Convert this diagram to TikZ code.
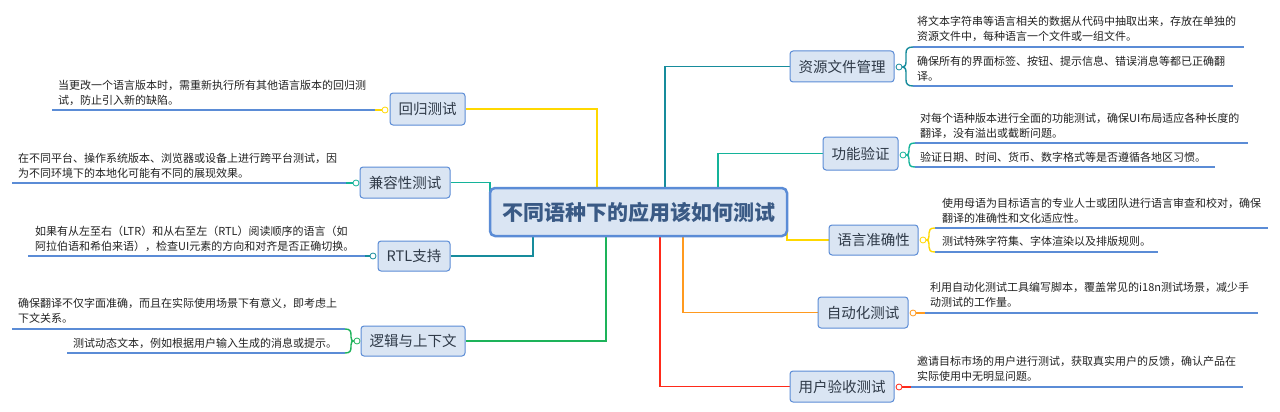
\documentclass[tikz,border=0pt]{standalone}
\usepackage{fontspec}
\setmainfont{Noto Sans CJK SC}
\usetikzlibrary{backgrounds}
\definecolor{boxfill}{HTML}{DAE5F3}
\definecolor{boxline}{HTML}{5B8CD6}
\definecolor{subtext}{HTML}{2F3A48}
\definecolor{maintext}{HTML}{3A5A85}
\definecolor{notetext}{HTML}{222222}
\definecolor{cy}{HTML}{FFD800}
\definecolor{ct}{HTML}{14B39A}
\definecolor{cdt}{HTML}{178C9C}
\definecolor{cg}{HTML}{1DB35A}
\definecolor{co}{HTML}{FF9A1F}
\definecolor{cr}{HTML}{FF2A1A}
\begin{document}
\begin{tikzpicture}[x=1pt,y=-1pt,
  mainbox/.style={draw=boxline, fill=boxfill, line width=2.5pt, rounded corners=5pt,
    minimum width=297pt, minimum height=48pt, inner sep=0pt,
    font=\fontsize{21}{24}\selectfont\bfseries, text=maintext},
  subbox/.style={draw=boxline, fill=boxfill, line width=1pt, rounded corners=3pt,
    inner sep=0pt, font=\fontsize{14.5}{16}\selectfont, text=subtext},
  note/.style={anchor=west, inner sep=0pt, align=left,
    font=\fontsize{11}{15}\selectfont, text=notetext},
  conn/.style={line width=1.6pt},
  uline/.style={draw=boxline, line width=1.4pt},
  dot/.style={circle, fill=white, inner sep=0pt, minimum size=6pt, line width=0.8pt}]
\useasboundingbox (0,0) rectangle (1280,412);

% main and sub topics
\node[mainbox] (central) at (638.5,212) {不同语种下的应用该如何测试};
\node[subbox, minimum width=75pt, minimum height=32pt] (b1) at (427.5,109) {回归测试};
\node[subbox, minimum width=90pt, minimum height=31pt] (b2) at (405,182.5) {兼容性测试};
\node[subbox, minimum width=72pt, minimum height=30pt] (b3) at (414,256) {RTL支持};
\node[subbox, minimum width=104pt, minimum height=30pt] (b4) at (413,341) {逻辑与上下文};
\node[subbox, minimum width=104pt, minimum height=31pt] (r1) at (842,66.5) {资源文件管理};
\node[subbox, minimum width=75pt, minimum height=33pt] (r2) at (860.5,153.5) {功能验证};
\node[subbox, minimum width=89pt, minimum height=30pt] (r3) at (873.5,240) {语言准确性};
\node[subbox, minimum width=90pt, minimum height=31pt] (r4) at (863,312.5) {自动化测试};
\node[subbox, minimum width=104pt, minimum height=31pt] (r5) at (842,386.5) {用户验收测试};

% connection dots
\node[dot, draw=cy] (d1) at (385,110) {};
\node[dot, draw=ct] (d2) at (356,183) {};
\node[dot, draw=cdt] (d3) at (373,256) {};
\node[dot, draw=cg] (d4) at (357,341) {};
\node[dot, draw=cdt] (e1) at (899,67) {};
\node[dot, draw=ct] (e2) at (903,155) {};
\node[dot, draw=cy] (e3) at (923,240) {};
\node[dot, draw=co] (e4) at (913,313) {};
\node[dot, draw=cr] (e5) at (899,387) {};

% notes
\node[note] (n1) at (58,92.5) {当更改一个语言版本时，需重新执行所有其他语言版本的回归测\\试，防止引入新的缺陷。};
\node[note] (n2) at (18,165.5) {在不同平台、操作系统版本、浏览器或设备上进行跨平台测试，因\\为不同环境下的本地化可能有不同的展现效果。};
\node[note] (n3) at (35,239) {如果有从左至右（LTR）和从右至左（RTL）阅读顺序的语言（如\\阿拉伯语和希伯来语），检查UI元素的方向和对齐是否正确切换。};
\node[note] (n4a) at (18,311) {确保翻译不仅字面准确，而且在实际使用场景下有意义，即考虑上\\下文关系。};
\node[note] (n4b) at (73,343) {测试动态文本，例如根据用户输入生成的消息或提示。};
\node[note] (m1a) at (917,28.5) {将文本字符串等语言相关的数据从代码中抽取出来，存放在单独的\\资源文件中，每种语言一个文件或一组文件。};
\node[note] (m1b) at (917,68.5) {确保所有的界面标签、按钮、提示信息、错误消息等都已正确翻\\译。};
\node[note] (m2a) at (920,125.5) {对每个语种版本进行全面的功能测试，确保UI布局适应各种长度的\\翻译，没有溢出或截断问题。};
\node[note] (m2b) at (920,157) {验证日期、时间、货币、数字格式等是否遵循各地区习惯。};
\node[note] (m3a) at (942,210.5) {使用母语为目标语言的专业人士或团队进行语言审查和校对，确保\\翻译的准确性和文化适应性。};
\node[note] (m3b) at (942,241) {测试特殊字符集、字体渲染以及排版规则。};
\node[note] (m4) at (930,295) {利用自动化测试工具编写脚本，覆盖常见的i18n测试场景，减少手\\动测试的工作量。};
\node[note] (m5) at (917,368.5) {邀请目标市场的用户进行测试，获取真实用户的反馈，确认产品在\\实际使用中无明显问题。};

% underline coordinates
\coordinate (u1s) at (52,110);   \coordinate (u1e) at (375,110);
\coordinate (u2s) at (12,183);   \coordinate (u2e) at (346,183);
\coordinate (u3s) at (28,256);   \coordinate (u3e) at (365,256);
\coordinate (u4as) at (12,329);  \coordinate (u4ae) at (345,329);
\coordinate (u4bs) at (67,353);  \coordinate (u4be) at (345,353);
\coordinate (v1as) at (913,47);  \coordinate (v1ae) at (1244,47);
\coordinate (v1bs) at (913,86);  \coordinate (v1be) at (1233,86);
\coordinate (v2as) at (915,143); \coordinate (v2ae) at (1248,143);
\coordinate (v2bs) at (915,167); \coordinate (v2be) at (1215,167);
\coordinate (v3as) at (935,228); \coordinate (v3ae) at (1268,228);
\coordinate (v3bs) at (935,252); \coordinate (v3be) at (1158,252);
\coordinate (v4s) at (925,313);  \coordinate (v4e) at (1258,313);
\coordinate (v5s) at (911,387);  \coordinate (v5e) at (1243,387);

% underlines
\draw[uline] (u1s) -- (u1e);
\draw[uline] (u2s) -- (u2e);
\draw[uline] (u3s) -- (u3e);
\draw[uline] (u4as) -- (u4ae);
\draw[uline] (u4bs) -- (u4be);
\draw[uline] (v1as) -- (v1ae);
\draw[uline] (v1bs) -- (v1be);
\draw[uline] (v2as) -- (v2ae);
\draw[uline] (v2bs) -- (v2be);
\draw[uline] (v3as) -- (v3ae);
\draw[uline] (v3bs) -- (v3be);
\draw[uline] (v4s) -- (v4e);
\draw[uline] (v5s) -- (v5e);

% braces
\draw[conn, cg, line width=1.4pt] (u4ae) .. controls (350,329) and (351,331) .. (351,335) -- (351,337)
  .. controls (351,340) and (352,341) .. (d4.west);
\draw[conn, cg, line width=1.4pt] (u4be) .. controls (350,353) and (351,351) .. (351,347) -- (351,345)
  .. controls (351,342) and (352,341) .. (d4.west);
\draw[conn, cdt, line width=1.4pt] (v1as) .. controls (908,47) and (906,49) .. (906,53) -- (906,62)
  .. controls (906,66) and (904,67) .. (e1.east);
\draw[conn, cdt, line width=1.4pt] (v1bs) .. controls (908,86) and (906,84) .. (906,80) -- (906,72)
  .. controls (906,68) and (904,67) .. (e1.east);
\draw[conn, ct, line width=1.4pt] (v2as) .. controls (910,143) and (909,145) .. (909,148) -- (909,151)
  .. controls (909,154) and (908,155) .. (e2.east);
\draw[conn, ct, line width=1.4pt] (v2bs) .. controls (910,167) and (909,165) .. (909,162) -- (909,159)
  .. controls (909,156) and (908,155) .. (e2.east);
\draw[conn, cy, line width=1.4pt] (v3as) .. controls (930,228) and (929,230) .. (929,233) -- (929,236)
  .. controls (929,239) and (928,240) .. (e3.east);
\draw[conn, cy, line width=1.4pt] (v3bs) .. controls (930,252) and (929,250) .. (929,247) -- (929,244)
  .. controls (929,241) and (928,240) .. (e3.east);

\begin{scope}[on background layer]
  \fill[white] (0,0) rectangle (1280,412);
  % branch connectors
  \draw[conn, cy] (b1.east) -| (597,0 |- central.center);
  \draw[conn, ct] (b2.east) -| (490,0 |- central.center);
  \draw[conn, cdt] (b3.east) -| (533,0 |- central.center);
  \draw[conn, cg] (b4.east) -| (606,0 |- central.center);
  \draw[conn, cdt] (r1.west) -| (665,0 |- central.center);
  \draw[conn, ct] (r2.west) -| (718,0 |- central.center);
  \draw[conn, cy] (r3.west) -| (787,0 |- central.center);
  \draw[conn, co] (r4.west) -| (683,0 |- central.center);
  \draw[conn, cr] (r5.west) -| (660,0 |- central.center);
  % short stubs to dots
  \draw[conn, cy] (d1.west) -- (u1e);
  \draw[conn, ct] (d2.west) -- (u2e);
  \draw[conn, cdt] (d3.west) -- (u3e);
  \draw[conn, co] (e4.east) -- (v4s);
  \draw[conn, cr] (e5.east) -- (v5s);
\end{scope}
\end{tikzpicture}
\end{document}
